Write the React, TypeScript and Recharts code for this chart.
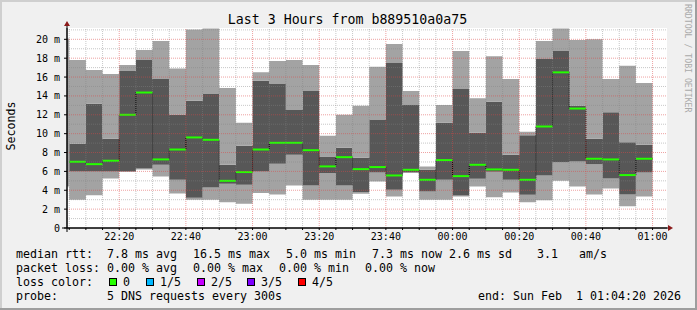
import { ComposedChart, Area, Line, XAxis, YAxis, ReferenceLine, CartesianGrid } from 'recharts'

document.body.style.margin = '0'

// 5 minute steps, start time of each step
const slots = [
  '22:05', '22:10', '22:15', '22:20', '22:25', '22:30', '22:35', '22:40', '22:45', '22:50',
  '22:55', '23:00', '23:05', '23:10', '23:15', '23:20', '23:25', '23:30', '23:35', '23:40',
  '23:45', '23:50', '23:55', '00:00', '00:05', '00:10', '00:15', '00:20', '00:25', '00:30',
  '00:35', '00:40', '00:45', '00:50', '00:55',
]
const lastStepEnd = '01:00'

// 5 DNS requests per step, sorted: min, 2nd, median, 4th, max (ms)
const pingMin = [3.0, 3.46, 5.26, 5.95, 6.2, 5.47, 3.67, 3.0, 3.0, 2.72, 2.58, 3.7, 3.56, 4.51, 3.0, 3.0, 3.0, 3.63, 4.94, 3.35, 5.85, 3.0, 3.0, 3.35, 4.41, 3.25, 3.77, 2.72, 2.93, 5.0, 4.41, 3.56, 4.2, 2.3, 3.35]
const ping2 = [6.0, 6.0, 6.0, 6.0, 6.31, 6.7, 5.11, 3.2, 4.3, 4.7, 4.59, 6.0, 6.8, 7.76, 4.51, 5.82, 4.51, 3.81, 5.89, 4.06, 5.89, 3.88, 5.11, 3.45, 5.22, 5.96, 5.11, 3.53, 5.57, 6.98, 7.05, 6.77, 5.26, 3.56, 5.89]
const median = [7.02, 6.77, 7.13, 12.0, 14.36, 7.27, 8.32, 9.6, 9.35, 5.0, 5.93, 8.32, 9.03, 9.03, 8.25, 6.53, 7.51, 6.24, 6.46, 5.57, 6.17, 5.11, 7.2, 5.5, 6.7, 6.21, 6.17, 5.11, 10.76, 16.5, 12.66, 7.34, 7.27, 5.61, 7.34]
const ping4 = [8.92, 13.16, 9.45, 16.65, 17.8, 15.8, 12.0, 13.5, 14.2, 6.7, 8.71, 15.6, 15.27, 12.52, 14.53, 7.58, 8.5, 7.44, 11.46, 17.5, 13.05, 6.17, 11.15, 14.74, 10.09, 13.37, 7.76, 9.84, 17.92, 18.76, 12.95, 9.45, 12.28, 9.1, 8.82]
const pingMax = [17.8, 16.75, 16.33, 17.28, 18.87, 19.82, 16.9, 21.05, 21.16, 14.85, 11.15, 16.5, 17.7, 17.8, 17.28, 9.77, 12.0, 12.95, 17.1, 19.5, 14.53, 6.53, 13.05, 18.77, 13.76, 18.2, 15.8, 10.19, 19.82, 21.16, 19.93, 20.0, 15.8, 17.2, 15.38]

// the sliver before 22:05 (graph starts at 22:04:20)
const partialStart = '22:04:20'
const partialMin = 4.4
const partialMax = 20.1
const graphEnd = '01:04:20'

const yTicks = [0, 2, 4, 6, 8, 10, 12, 14, 16, 18, 20]
const yMinor = [1, 3, 5, 7, 9, 11, 13, 15, 17, 19, 21]
const xMajor = ['22:20', '22:40', '23:00', '23:20', '23:40', '00:00', '00:20', '00:40', '01:00']

const lossColors = [
  { label: '0', color: '#26ff00' },
  { label: '1/5', color: '#00b8ff' },
  { label: '2/5', color: '#c600ff' },
  { label: '3/5', color: '#7e00ff' },
  { label: '4/5', color: '#ff0000' },
]

const font = '"DejaVu Sans Mono", monospace'

// minutes after 22:00
const toMinutes = (s: string) => {
  const [h, m, sec = 0] = s.split(':').map(Number)
  return (h >= 22 ? (h - 22) * 60 : (h + 2) * 60) + m + sec / 60
}
const fmtTime = (v: number) => {
  const h = (22 + Math.floor(v / 60)) % 24
  const m = Math.round(v % 60)
  return `${String(h).padStart(2, '0')}:${String(m).padStart(2, '0')}`
}

const stepStarts = slots.map(toMinutes)
const stepEnds = slots.map((_, i) => (i + 1 < slots.length ? stepStarts[i + 1] : toMinutes(lastStepEnd)))
const majorX = xMajor.map(toMinutes)
const allTicks = [...stepStarts, toMinutes(lastStepEnd)]
const minorX = allTicks.filter(t => !majorX.includes(t))

const last = slots.length - 1
const rows = [
  { t: toMinutes(partialStart), base: partialMin, lo: 0, mid: 0, hi: partialMax - partialMin, med: null as number | null },
  ...slots.map((_, i) => ({
    t: stepStarts[i],
    base: pingMin[i],
    lo: ping2[i] - pingMin[i],
    mid: ping4[i] - ping2[i],
    hi: pingMax[i] - ping4[i],
    med: median[i] as number | null,
  })),
  {
    t: toMinutes(lastStepEnd),
    base: pingMin[last],
    lo: ping2[last] - pingMin[last],
    mid: ping4[last] - ping2[last],
    hi: pingMax[last] - ping4[last],
    med: median[last] as number | null,
  },
]

const minorGrid = 'rgba(130,130,130,0.45)'
const majorGrid = 'rgba(222,70,70,0.5)'

const App = () => {
  return (
    <div style={{ position: 'relative', width: 697, height: 310, background: '#f0f0f0', overflow: 'hidden' }}>
      <ComposedChart
        width={697}
        height={310}
        data={rows}
        margin={{ top: 28, right: 30, bottom: 0, left: 0 }}>
        <CartesianGrid horizontal={false} vertical={false} fill='#ffffff' />
        <XAxis
          dataKey='t'
          type='number'
          domain={[toMinutes(partialStart), toMinutes(graphEnd)]}
          allowDataOverflow
          ticks={allTicks}
          interval={0}
          tickFormatter={v => (majorX.includes(v) ? fmtTime(v) : '')}
          height={82}
          tickSize={2}
          tickMargin={3}
          axisLine={{ stroke: '#000' }}
          tickLine={{ stroke: '#000' }}
          tick={{ fill: '#000', fontSize: 10, fontFamily: font }}
        />
        <YAxis
          type='number'
          domain={[0, 21.2]}
          allowDataOverflow
          ticks={yTicks}
          interval={0}
          width={67}
          tickSize={3}
          tickMargin={4}
          tickFormatter={v => (v === 0 ? '0' : `${v} m`)}
          axisLine={{ stroke: '#000' }}
          tickLine={{ stroke: '#000' }}
          tick={{ fill: '#000', fontSize: 10, fontFamily: font }}
        />
        <Area type='stepAfter' dataKey='base' stackId='smoke' stroke='none' fill='none' isAnimationActive={false} />
        <Area type='stepAfter' dataKey='lo' stackId='smoke' stroke='none' fill='#a3a3a3' fillOpacity={1} isAnimationActive={false} />
        <Area type='stepAfter' dataKey='mid' stackId='smoke' stroke='none' fill='#575757' fillOpacity={1} isAnimationActive={false} />
        <Area type='stepAfter' dataKey='hi' stackId='smoke' stroke='none' fill='#a3a3a3' fillOpacity={1} isAnimationActive={false} />
        <Line
          type='stepAfter'
          dataKey='med'
          stroke='#000'
          strokeWidth={1}
          strokeDasharray='1 1'
          dot={false}
          activeDot={false}
          isAnimationActive={false}
        />
        {slots.map((s, i) => (
          <ReferenceLine
            key={'m' + s}
            segment={[
              { x: stepStarts[i], y: median[i] },
              { x: stepEnds[i], y: median[i] },
            ]}
            stroke={lossColors[0].color}
            strokeWidth={2}
          />
        ))}
        {yMinor.map(v => (
          <ReferenceLine key={'ym' + v} y={v} stroke={minorGrid} strokeDasharray='1 1' />
        ))}
        {minorX.map(v => (
          <ReferenceLine key={'xm' + v} x={v} stroke={minorGrid} strokeDasharray='1 1' />
        ))}
        {yTicks.slice(1).map(v => (
          <ReferenceLine key={'yM' + v} y={v} stroke={majorGrid} strokeDasharray='1 1' />
        ))}
        {majorX.map(v => (
          <ReferenceLine key={'xM' + v} x={v} stroke={majorGrid} strokeDasharray='1 1' />
        ))}
      </ComposedChart>
      <svg
        width={697}
        height={310}
        style={{ position: 'absolute', left: 0, top: 0, pointerEvents: 'none' }}>
        <rect x={0} y={0} width={697} height={2} fill='#cfcfcf' />
        <rect x={0} y={0} width={2} height={310} fill='#cfcfcf' />
        <rect x={695} y={0} width={2} height={310} fill='#9e9e9e' />
        <rect x={0} y={308} width={697} height={2} fill='#9e9e9e' />
        <line x1={62} y1={228} x2={669} y2={228} stroke='#000' />
        <line x1={67} y1={232} x2={67} y2={24} stroke='#000' />
        <polygon points='668,225 673,228 668,231' fill='#8b1a1a' />
        <polygon points='64,26 67,21 70,26' fill='#8b1a1a' />
        <text x={347.5} y={23.5} textAnchor='middle' fontFamily={font} fontSize={13.25} fill='#000'>
          Last 3 Hours from b889510a0a75
        </text>
        <text x={15} y={126} transform='rotate(-90 15 126)' textAnchor='middle' fontFamily={font} fontSize={11.6} fill='#000'>
          Seconds
        </text>
        <text x={684.5} y={4} transform='rotate(90 684.5 4)' fontFamily={font} fontSize={8.2} fill='#aaaaaa'>
          RRDTOOL / TOBI OETIKER
        </text>
        <g fontFamily={font} fontSize={11.63} fill='#000' style={{ whiteSpace: 'pre' }}>
          <text x={16} y={258}>median rtt:</text>
          <text x={107} y={258}>7.8 ms avg</text>
          <text x={193} y={258}>16.5 ms max</text>
          <text x={286} y={258}>5.0 ms min</text>
          <text x={372} y={258}>7.3 ms now</text>
          <text x={449} y={258}>2.6 ms sd</text>
          <text x={537} y={258}>3.1</text>
          <text x={579} y={258}>am/s</text>

          <text x={16} y={272}>packet loss:</text>
          <text x={107} y={272}>0.00 % avg</text>
          <text x={193} y={272}>0.00 % max</text>
          <text x={279} y={272}>0.00 % min</text>
          <text x={365} y={272}>0.00 % now</text>

          <text x={16} y={286}>loss color:</text>
          {lossColors.map((c, i) => {
            const bx = [109, 146, 197, 247, 298][i]
            return (
              <g key={c.label}>
                <rect x={bx + 0.5} y={278.5} width={7} height={7} fill={c.color} stroke='#000' />
                <text x={bx + 14} y={286}>{c.label}</text>
              </g>
            )
          })}

          <text x={16} y={300}>probe:</text>
          <text x={107} y={300}>5 DNS requests every 300s</text>
          <text x={478} y={300} xmlSpace='preserve'>end: Sun Feb  1 01:04:20 2026</text>
        </g>
      </svg>
    </div>
  )
}

export default App
